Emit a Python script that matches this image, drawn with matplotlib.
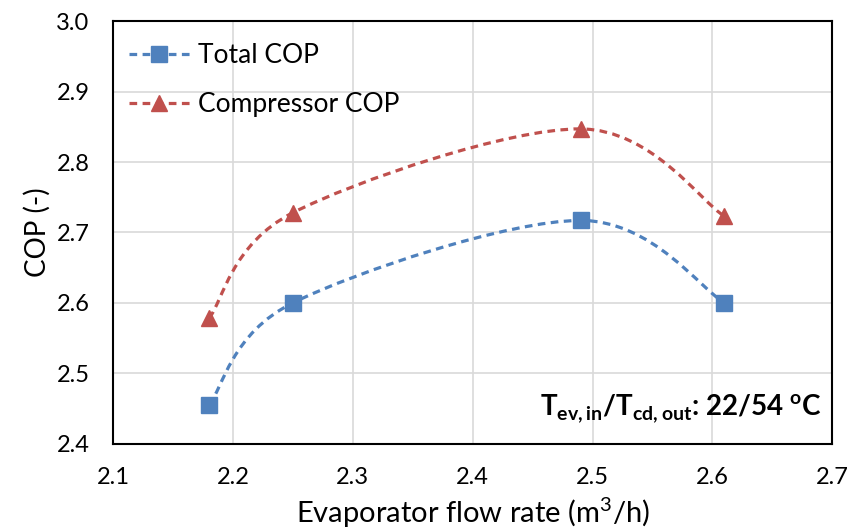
import numpy as np
import matplotlib
matplotlib.use("Agg")
import matplotlib.pyplot as plt
from matplotlib.path import Path
from matplotlib.patches import PathPatch

plt.rcParams['font.family'] = ['Lato', 'DejaVu Sans']
plt.rcParams['mathtext.fontset'] = 'custom'
plt.rcParams['mathtext.rm'] = 'Lato'
plt.rcParams['mathtext.bf'] = 'Lato:bold'

flow = [2.18, 2.25, 2.49, 2.61]
total_cop = [2.455, 2.600, 2.717, 2.600]
comp_cop = [2.578, 2.728, 2.847, 2.723]

blue = '#4F81BD'
red = '#C0504D'


def smooth_path(ax, xs, ys):
    # Excel-like smoothed line: cubic Bezier through the points, built in display space
    pts = ax.transData.transform(np.column_stack([xs, ys]))
    n = len(pts)
    verts = [pts[0]]
    codes = [Path.MOVETO]
    for i in range(n - 1):
        p0 = pts[i - 1] if i > 0 else pts[i]
        p1 = pts[i]
        p2 = pts[i + 1]
        p3 = pts[i + 2] if i + 2 < n else pts[i + 1]
        c1 = p1 + (p2 - p0) / 6.0
        c2 = p2 - (p3 - p1) / 6.0
        verts += [c1, c2, p2]
        codes += [Path.CURVE4] * 3
    verts = ax.transData.inverted().transform(np.array(verts))
    return Path(verts, codes)


fig, ax = plt.subplots(figsize=(8.51, 5.30), dpi=100)
fig.subplots_adjust(left=0.133, right=0.978, top=0.960, bottom=0.163)

ax.set_xlim(2.1, 2.7)
ax.set_ylim(2.4, 3.0)
ax.set_xticks(np.arange(2.1, 2.71, 0.1))
ax.set_yticks(np.arange(2.4, 3.01, 0.1))
ax.xaxis.set_major_formatter(plt.FormatStrFormatter('%.1f'))
ax.yaxis.set_major_formatter(plt.FormatStrFormatter('%.1f'))
ax.grid(True, color='#d9d9d9', linewidth=1.2)
ax.set_axisbelow(True)
for s in ax.spines.values():
    s.set_linewidth(1.5)
ax.tick_params(length=0, labelsize=17)
ax.tick_params(axis='x', pad=17)
ax.tick_params(axis='y', pad=17)

for ys, col, mk, lab in [(total_cop, blue, 's', 'Total COP'),
                         (comp_cop, red, '^', 'Compressor COP')]:
    patch = PathPatch(smooth_path(ax, flow, ys), facecolor='none', edgecolor=col,
                      linewidth=2.3, linestyle=(0, (2.4, 1.7)), zorder=3)
    ax.add_patch(patch)
    ax.plot(flow, ys, linestyle='none', marker=mk, markersize=11.5, color=col, zorder=4)
    ax.plot([], [], color=col, linewidth=2.3, linestyle=(0, (2.4, 1.7)),
            marker=mk, markersize=11.5, label=lab)

ax.legend(loc='upper left', frameon=False, fontsize=19, handlelength=2.3,
          borderaxespad=0.2, labelspacing=0.9, handletextpad=0.3,
          bbox_to_anchor=(0.0, 0.985))

ax.set_xlabel('Evaporator flow rate (m$^3$/h)', fontsize=21, labelpad=5)
ax.set_ylabel('COP (-)', fontsize=20, labelpad=4)

ax.text(0.985, 0.045, r'$\mathbf{T_{ev,in}/T_{cd,out}}$: 22/54 $^{\mathbf{o}}$C',
        transform=ax.transAxes, ha='right', va='bottom', fontsize=20, fontweight='bold')

fig.savefig('out.png', dpi=100)
